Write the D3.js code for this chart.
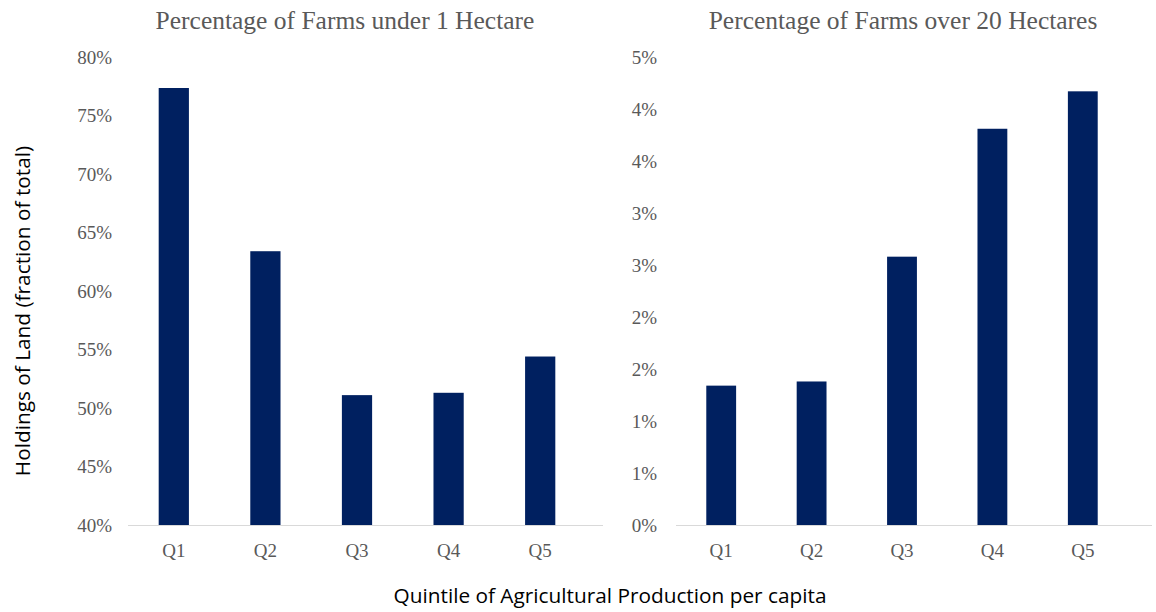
<!DOCTYPE html>
<html>
<head>
<meta charset="utf-8">
<script src="https://cdn.jsdelivr.net/npm/d3@7"></script>
<style>
  body { margin: 0; background: #fff; }
  .tick-label { font-family: "Liberation Serif", serif; font-size: 19px; fill: #595959; }
  .chart-title { font-family: "Liberation Serif", serif; font-size: 25.5px; fill: #595959; }
  .axis-title { font-family: "Open Sans", sans-serif; font-size: 20.8px; fill: #000; }
</style>
</head>
<body>
<div id="chart"></div>
<script>
const quintiles = ["Q1", "Q2", "Q3", "Q4", "Q5"];
const under1Ha = [0.7735, 0.634, 0.511, 0.513, 0.544];
const over20Ha = [0.0134, 0.0138, 0.0258, 0.0381, 0.0417];
const leftTicks = [0.40, 0.45, 0.50, 0.55, 0.60, 0.65, 0.70, 0.75, 0.80];
const rightTicks = [0, 0.005, 0.01, 0.015, 0.02, 0.025, 0.03, 0.035, 0.04, 0.045];

const width = 1156;
const height = 612;
const barColor = "#002060";

const svg = d3.select("#chart").append("svg")
    .attr("width", width)
    .attr("height", height);

// round half up like Excel does for "0%"
const pct = v => Math.round(v * 100 + 1e-9) + "%";

function panel(opts) {
    const y = d3.scaleLinear().domain(opts.domain).range([525, 57]);
    const x = d3.scaleBand().domain(quintiles).range(opts.xRange).paddingInner(0.67).paddingOuter(0.335);

    const g = svg.append("g");

    g.append("text")
        .attr("class", "chart-title")
        .attr("x", opts.titleX)
        .attr("y", 29)
        .attr("text-anchor", "middle")
        .text(opts.title);

    g.selectAll(".tick-label")
        .data(opts.ticks)
        .enter()
        .append("text")
        .attr("class", "tick-label")
        .attr("x", opts.labelX)
        .attr("y", d => y(d))
        .attr("dy", "0.35em")
        .attr("text-anchor", "end")
        .text(d => pct(d));

    g.selectAll("rect")
        .data(opts.values)
        .enter()
        .append("rect")
        .attr("x", (d, i) => x(quintiles[i]))
        .attr("y", d => y(d))
        .attr("width", x.bandwidth())
        .attr("height", d => y(opts.domain[0]) - y(d))
        .attr("fill", barColor);

    g.append("line")
        .attr("x1", opts.lineX[0])
        .attr("x2", opts.lineX[1])
        .attr("y1", 525.5)
        .attr("y2", 525.5)
        .attr("stroke", "#d9d9d9")
        .attr("stroke-width", 1);

    g.selectAll(".cat-label")
        .data(quintiles)
        .enter()
        .append("text")
        .attr("class", "tick-label cat-label")
        .attr("x", d => x(d) + x.bandwidth() / 2)
        .attr("y", 550)
        .attr("dy", "0.35em")
        .attr("text-anchor", "middle")
        .text(d => d);
}

panel({
    title: "Percentage of Farms under 1 Hectare",
    titleX: 345,
    values: under1Ha,
    domain: [0.40, 0.80],
    ticks: leftTicks,
    labelX: 112,
    xRange: [128, 586],
    lineX: [128, 603]
});

panel({
    title: "Percentage of Farms over 20 Hectares",
    titleX: 903,
    values: over20Ha,
    domain: [0, 0.045],
    ticks: rightTicks,
    labelX: 657,
    xRange: [676, 1128],
    lineX: [676, 1152]
});

svg.append("text")
    .attr("class", "axis-title")
    .attr("transform", "translate(30, 311) rotate(-90)")
    .attr("text-anchor", "middle")
    .text("Holdings of Land (fraction of total)");

svg.append("text")
    .attr("class", "axis-title")
    .attr("x", 610)
    .attr("y", 603)
    .attr("text-anchor", "middle")
    .text("Quintile of Agricultural Production per capita");
</script>
</body>
</html>
